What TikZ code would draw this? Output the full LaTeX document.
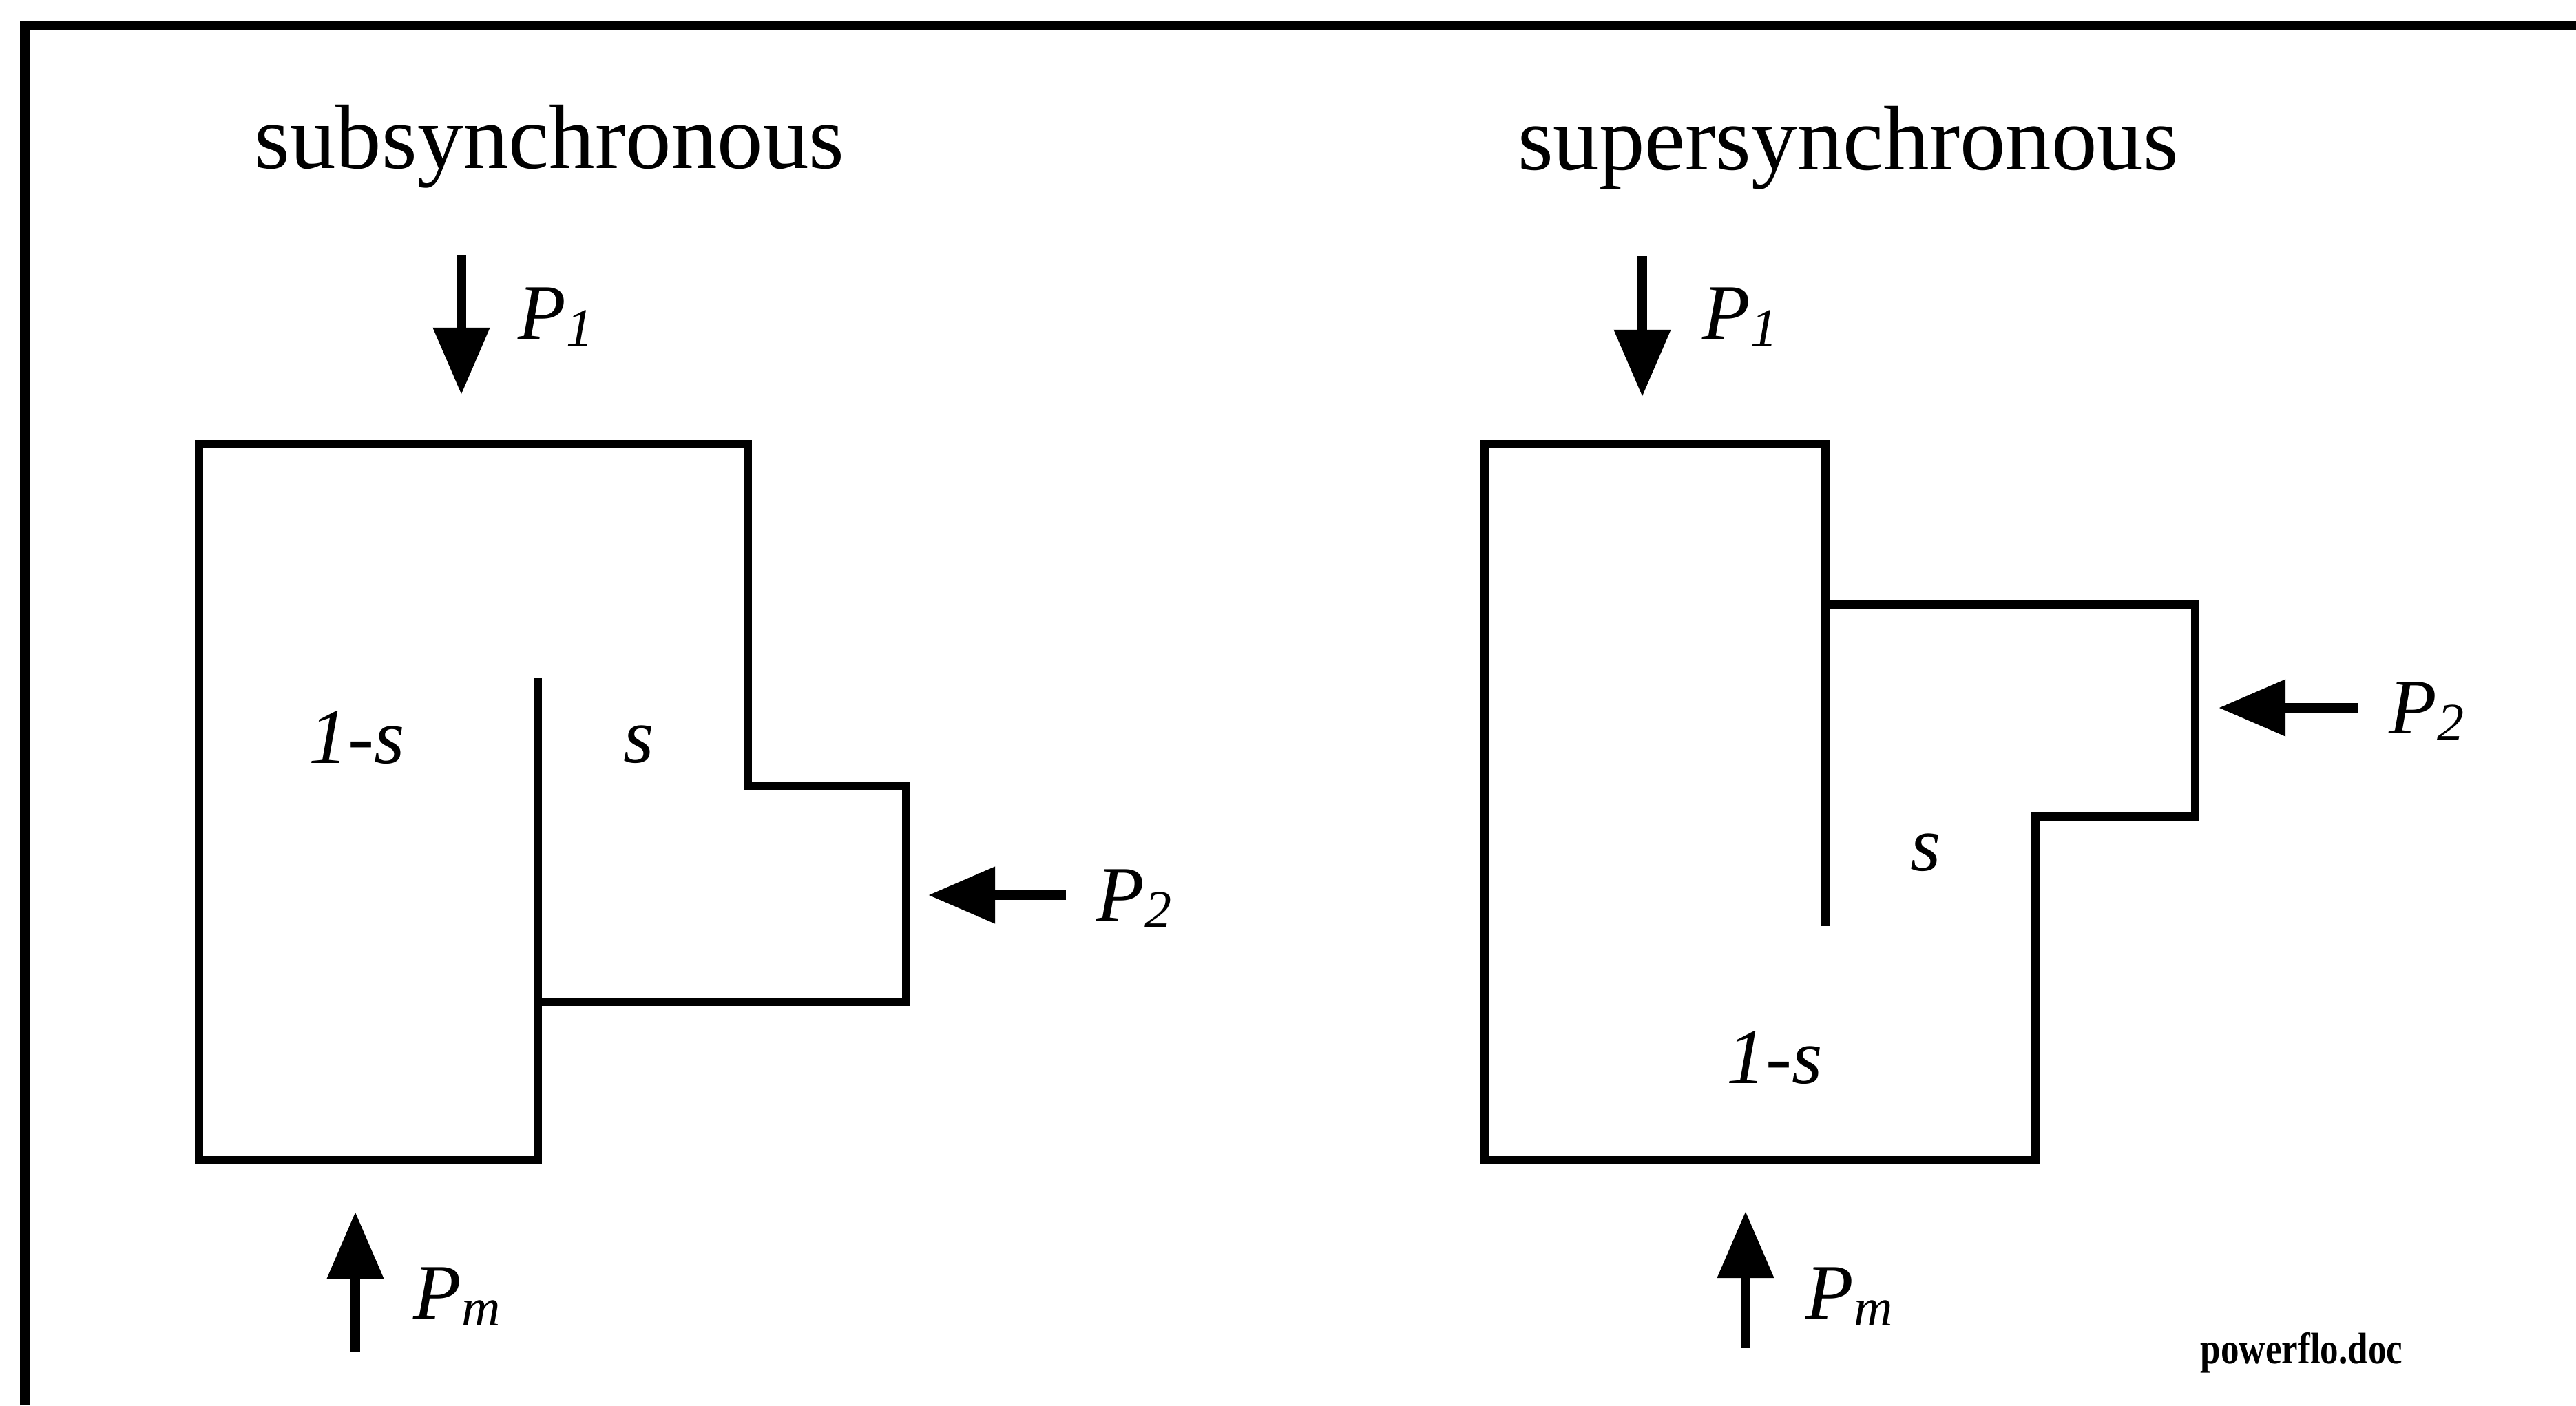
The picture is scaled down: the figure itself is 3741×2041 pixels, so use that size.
\documentclass[tikz,border=0pt]{standalone}
\usepackage{fontspec}
\setmainfont{Liberation Serif}
\usetikzlibrary{arrows.meta}
\newcommand\lblP[1]{\textit{P}\raisebox{-3.1pt}{\fontsize{22.2pt}{24pt}\selectfont\textit{#1}}}
\begin{document}
\begin{tikzpicture}[x=0.01cm,y=-0.01cm,
  outline/.style={line width=0.12cm, line join=miter},
  framestyle/.style={line width=0.13cm},
  flow/.style={line width=0.14cm, -{Triangle[length=0.97cm,width=0.79cm]}},
  titlestyle/.style={inner sep=0, anchor=base, font=\fontsize{37.8pt}{40pt}\selectfont},
  lbl/.style={inner sep=0, anchor=base west, font=\fontsize{32.4pt}{36pt}\selectfont},
  frac/.style={inner sep=0, anchor=base, font=\fontsize{32.4pt}{36pt}\selectfont\itshape},
]
\useasboundingbox (0,0) rectangle (3741,2041);
% frame
\draw[framestyle] (36,2041) -- (36,36) -- (3741,36);

% titles
\node[titlestyle] (t1) at (798,244) {subsynchronous};
\node[titlestyle] (t2) at (2684,246) {supersynchronous};

% left machine
\draw[outline] (289,645) -- (1086,645) -- (1086,1142) -- (1316,1142) -- (1316,1455)
  -- (781,1455) -- (781,1685) -- (289,1685) -- cycle;
\draw[outline] (781,985) -- (781,1455);
\node[frac] (l1s) at (518,1108) {1-s};
\node[frac] (ls) at (928,1107) {s};

% right machine
\draw[outline] (2156,645) -- (2651,645) -- (2651,878) -- (3188,878) -- (3188,1186)
  -- (2956,1186) -- (2956,1685) -- (2156,1685) -- cycle;
\draw[outline] (2651,878) -- (2651,1345);
\node[frac] (rs) at (2797,1264) {s};
\node[frac] (r1s) at (2577,1573) {1-s};

% arrow coordinates
\coordinate (a1t) at (670,370);  \coordinate (a1h) at (670,573);
\coordinate (a2t) at (1548,1300); \coordinate (a2h) at (1348,1300);
\coordinate (a3t) at (516,1963); \coordinate (a3h) at (516,1760);
\coordinate (b1t) at (2385,372); \coordinate (b1h) at (2385,576);
\coordinate (b2t) at (3424,1028); \coordinate (b2h) at (3222,1028);
\coordinate (b3t) at (2535,1958); \coordinate (b3h) at (2535,1759);

\draw[flow] (a1t) -- (a1h);
\draw[flow] (a2t) -- (a2h);
\draw[flow] (a3t) -- (a3h);
\draw[flow] (b1t) -- (b1h);
\draw[flow] (b2t) -- (b2h);
\draw[flow] (b3t) -- (b3h);

% labels
\node[lbl] (lp1) at (752,492) {\lblP{1}};
\node[lbl] (lp2) at (1592,1337) {\lblP{2}};
\node[lbl] (lpm) at (600,1915) {\lblP{m}};
\node[lbl] (rp1) at (2472,492) {\lblP{1}};
\node[lbl] (rp2) at (3469,1065) {\lblP{2}};
\node[lbl] (rpm) at (2622,1915) {\lblP{m}};

\node[inner sep=0, anchor=base west, font=\fontsize{18.2pt}{20pt}\selectfont\bfseries] (doc) at (3195,1980) {\scalebox{0.83}[1]{powerflo.doc}};
\end{tikzpicture}
\end{document}
